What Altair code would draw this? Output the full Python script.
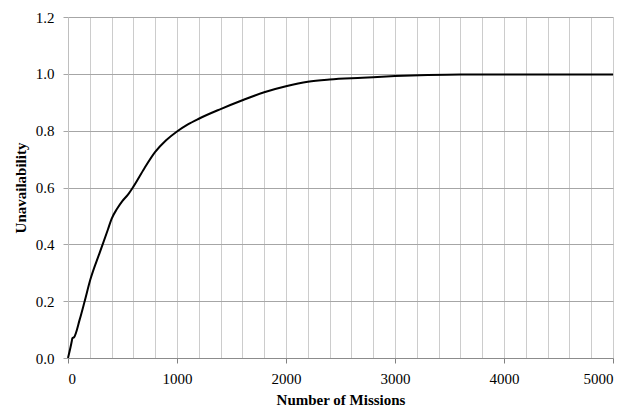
import altair as alt
import pandas as pd

missions = [0, 35, 40, 55, 107, 153, 205, 291, 367, 400, 450, 500, 550, 600, 700, 800, 900,
            1000, 1100, 1200, 1400, 1600, 1800, 2000, 2200, 2400, 2700, 3000, 3300, 3600,
            4000, 4500, 5000]
unavailability = [0.0, 0.06, 0.07, 0.073, 0.135, 0.2, 0.276, 0.371, 0.453, 0.49, 0.525, 0.553,
                  0.575, 0.603, 0.667, 0.725, 0.766, 0.797, 0.822, 0.842, 0.876, 0.907, 0.935,
                  0.956, 0.972, 0.98, 0.986, 0.992, 0.996, 0.998, 0.998, 0.998, 0.998]
x_grid_values = list(range(0, 5001, 200))
y_tick_values = [0.0, 0.2, 0.4, 0.6, 0.8, 1.0, 1.2]

df = pd.DataFrame({"missions": missions, "u": unavailability})
FONT = "Liberation Serif"

chart = alt.Chart(df).mark_line(color="black", strokeWidth=2, interpolate="monotone").encode(
    x=alt.X("missions:Q", title="Number of Missions",
            scale=alt.Scale(domain=[0, 5000], nice=False),
            axis=alt.Axis(values=x_grid_values,
                          labelExpr="datum.value % 1000 == 0 ? datum.label : ''",
                          format="d",
                          tickOpacity=alt.condition("datum.value % 1000 == 0", alt.value(1), alt.value(0)),
                          gridColor="#cccccc", tickColor="#808080", domainColor="#8c8c8c",
                          tickSize=5, labelPadding=8,
                          labelFont=FONT, labelFontSize=15, labelColor="black",
                          titleFont=FONT, titleFontSize=15, titleFontWeight="bold",
                          titleColor="black", titlePadding=6)),
    y=alt.Y("u:Q", title="Unavailability",
            scale=alt.Scale(domain=[0, 1.2], nice=False),
            axis=alt.Axis(values=y_tick_values, format=".1f",
                          gridColor="#a6a6a6", tickColor="#a6a6a6", domainColor="#bfbfbf",
                          tickSize=5, labelPadding=9,
                          labelFont=FONT, labelFontSize=15, labelColor="black",
                          titleFont=FONT, titleFontSize=15, titleFontWeight="bold",
                          titleColor="black", titlePadding=7)),
).properties(
    width=545, height=341,
    autosize=alt.AutoSizeParams(type="none"),
    padding={"left": 60, "top": 9, "right": 9, "bottom": 50},
).configure(font=FONT).configure_view(stroke=None)

chart.save("out.html", embed_options={"renderer": "svg", "actions": False})
